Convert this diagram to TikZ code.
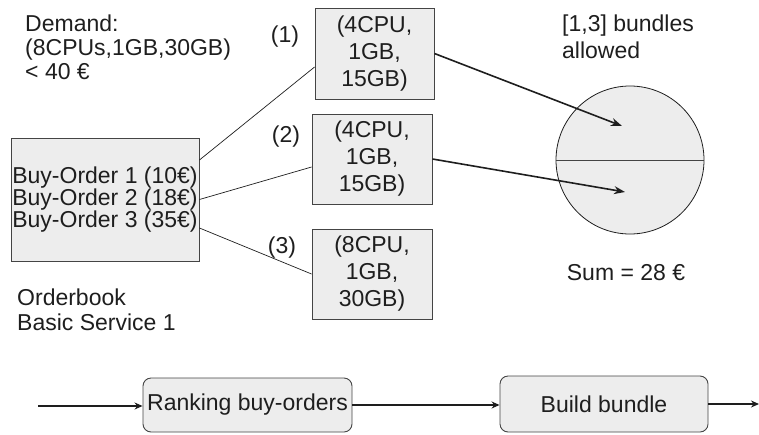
\documentclass[tikz,border=0pt]{standalone}
\usepackage{fontspec}
\setmainfont{Liberation Sans}
\usetikzlibrary{arrows.meta}
\definecolor{boxfill}{HTML}{EDEDED}
\definecolor{boxline}{HTML}{444444}
\definecolor{txt}{HTML}{1E1E1E}
\begin{document}
\begin{tikzpicture}[x=1pt,y=-1pt,
  every node/.style={text=txt,font=\fontsize{23}{24}\selectfont,inner sep=0pt},
  gbox/.style={draw=boxline,fill=boxfill,line width=0.9pt,align=center},
  resbox/.style={gbox,minimum width=120pt,minimum height=90pt,font=\fontsize{23}{27}\selectfont},
  procbox/.style={gbox,rounded corners=8pt,minimum width=209pt,minimum height=55pt},
  thinline/.style={draw=txt,line width=0.7pt},
  thickarrow/.style={draw=txt,line width=1.6pt,-{Stealth[length=11pt,width=8pt]}},
  flowarrow/.style={draw=txt,line width=1.6pt,-{Stealth[length=8pt,width=7pt]}},
  lbl/.style={align=left}
]
\useasboundingbox (0,0) rectangle (759,434);

% texts
\node[lbl,anchor=west] (demand) at (25,47) {Demand:\\(8CPUs,1GB,30GB)\\< 40 €};
\node[lbl,anchor=west,font=\fontsize{23}{25}\selectfont] (ob) at (17,310) {Orderbook\\Basic Service 1};
\node[lbl,anchor=west,font=\fontsize{23}{27}\selectfont] (allowed) at (562,37) {[1,3] bundles\\allowed};
\node (sum) at (626,273) {Sum = 28 €};

% buy-order box
\node[gbox,minimum width=188pt,minimum height=123pt,font=\fontsize{23}{20.5}\selectfont] (bo) at (105,199.5)
  {Buy-Order 1 (10€)\\Buy-Order 2 (18€)\\Buy-Order 3 (35€)};

% resource boxes
\node[resbox,minimum width=119pt,minimum height=91pt] (b1) at (374.5,53.5) {(4CPU,\\1GB,\\15GB)};
\node[resbox] (b2) at (372,159) {(4CPU,\\1GB,\\15GB)};
\node[resbox] (b3) at (372,274) {(8CPU,\\1GB,\\30GB)};

\node (l1) at (285,37) {(1)};
\node (l2) at (286,137) {(2)};
\node (l3) at (282,248) {(3)};

% connectors from orderbook
\draw[thinline] ([yshift=39.5pt]bo.east) -- ([yshift=-13.5pt]b1.west);
\draw[thinline] (bo.east) -- ([yshift=-8pt]b2.west);
\draw[thinline] ([yshift=-28.5pt]bo.east) -- (b3.west);

% bundle circle
\node[circle,draw=txt,fill=boxfill,line width=0.8pt,minimum size=148pt] (c) at (630,160) {};
\draw[draw=boxline,line width=0.8pt] (c.west) -- (c.east);
\coordinate (t1) at (622,126);
\coordinate (t2) at (625,192);
\draw[thickarrow] (b1.east) -- (t1);
\draw[thickarrow] (b2.east) -- (t2);

% process flow
\node[procbox,minimum height=54pt] (rank) at (247.5,405) {Ranking buy-orders};
\node[procbox,minimum width=208pt,minimum height=56pt] (build) at (604,404) {Build bundle};
\coordinate (in) at (38,406);
\coordinate (out) at (759,404);
\draw[flowarrow] (in) -- (rank.west |- in);
\draw[flowarrow] (rank.east) -- (build.west |- rank.east);
\draw[flowarrow] (build.east) -- (out);
\end{tikzpicture}
\end{document}
